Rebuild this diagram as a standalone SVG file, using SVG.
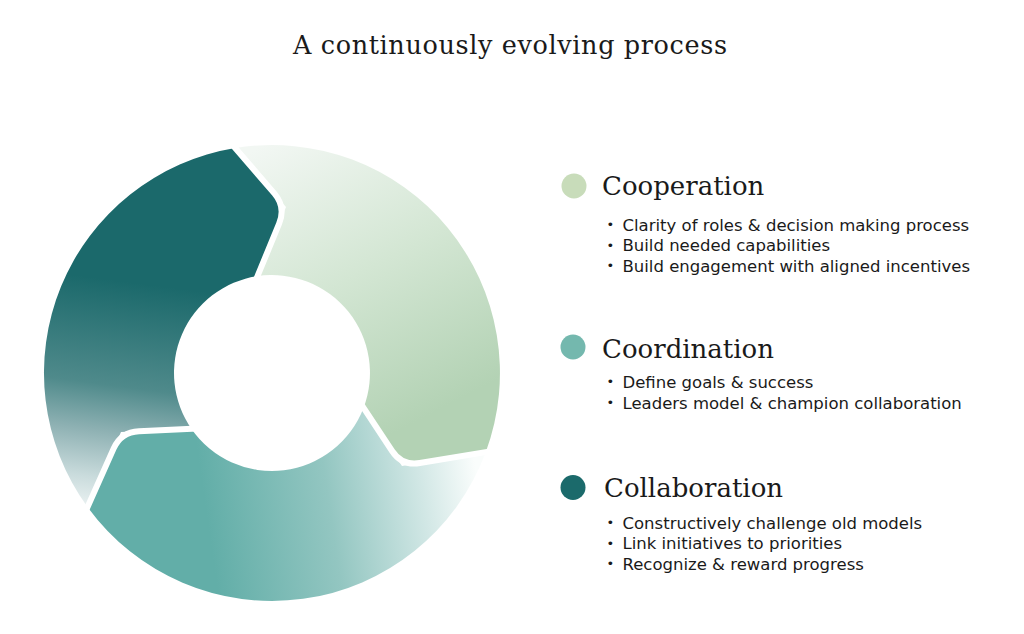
<svg xmlns="http://www.w3.org/2000/svg" width="1024" height="634" viewBox="0 0 1024 634">
  <style>
    .title { font-family: "DejaVu Serif", "Liberation Serif", serif; font-size: 25.5px; fill: #1a1a1a; }
    .head { font-family: "DejaVu Serif", "Liberation Serif", serif; font-size: 26px; fill: #1a1a1a; }
    .item { font-family: "DejaVu Sans", "Liberation Sans", sans-serif; font-size: 16.5px; fill: #1a1a1a; }
    .dot { font-family: "DejaVu Sans", "Liberation Sans", sans-serif; font-size: 13px; fill: #1a1a1a; }
    .gap { fill: none; stroke: #ffffff; stroke-width: 6; stroke-linejoin: round; stroke-linecap: butt; }
  </style>
  <defs>
    <linearGradient id="gGreen" gradientUnits="userSpaceOnUse" x1="255" y1="150" x2="400" y2="430">
      <stop offset="0" stop-color="#F2F7F3"/>
      <stop offset="0.5" stop-color="#D3E6D3"/>
      <stop offset="1" stop-color="#B3D2B4"/>
    </linearGradient>
    <linearGradient id="gTeal" gradientUnits="userSpaceOnUse" x1="200" y1="470" x2="470" y2="430">
      <stop offset="0" stop-color="#62AEA8"/>
      <stop offset="0.45" stop-color="#93C6C1"/>
      <stop offset="0.8" stop-color="#D3E8E6"/>
      <stop offset="1" stop-color="#FAFDFC"/>
    </linearGradient>
    <linearGradient id="gDark" gradientUnits="userSpaceOnUse" x1="150" y1="285" x2="120" y2="515">
      <stop offset="0" stop-color="#1B696B"/>
      <stop offset="0.45" stop-color="#4F8A8B"/>
      <stop offset="0.65" stop-color="#8EB1B3"/>
      <stop offset="0.85" stop-color="#C9DBDC"/>
      <stop offset="1" stop-color="#EEF4F4"/>
    </linearGradient>
  </defs>

  <rect width="1024" height="634" fill="#ffffff"/>

  <text class="title" x="293" y="53.5" textLength="434" lengthAdjust="spacing">A continuously evolving process</text>

  <g id="cycle">
    <g id="seg-cooperation">
      <path fill="url(#gGreen)" d="M235.2,148 A228,228 0 0 1 485.8,452.1 L419.8,463 Q402,466 392.1,451 L363.6,407.8 A98,98 0 0 0 257.5,276.1 L286,207 Z"/>
    </g>
    <g id="seg-coordination">
      <path fill="url(#gTeal)" d="M485.8,452.1 A228,228 0 0 1 87.5,507 L113.7,448.4 Q121,432 139,431.2 L191.5,428.9 A98,98 0 0 0 363.6,407.8 L402,466 Z"/>
    </g>
    <g id="seg-collaboration">
      <path fill="url(#gDark)" d="M87.5,507 A228,228 0 0 1 235.2,148 L274.3,193.4 Q286,207 279.1,223.7 L257.5,276.1 A98,98 0 0 0 191.5,428.9 L121,432 Z"/>
    </g>
  </g>

  <g id="connectors">
    <path class="gap" d="M231.3,143.5 L274.3,193.4 Q286,207 279.1,223.7 L255.2,281.7"/>
    <path class="gap" d="M491.7,451.1 L419.8,463 Q402,466 392.1,451 L360.3,402.8"/>
    <path class="gap" d="M85.1,512.5 L113.7,448.4 Q121,432 139,431.2 L197.5,428.6"/>
  </g>

  <g id="legend-cooperation">
    <circle cx="574" cy="186" r="12.5" fill="#C8DCBA"/>
    <text class="head" x="602" y="194.5">Cooperation</text>
    <text class="dot" x="606.5" y="229">•</text>
    <text class="item" x="622.5" y="230.5">Clarity of roles &amp; decision making process</text>
    <text class="dot" x="606.5" y="249.5">•</text>
    <text class="item" x="622.5" y="251">Build needed capabilities</text>
    <text class="dot" x="606.5" y="270">•</text>
    <text class="item" x="622.5" y="271.5">Build engagement with aligned incentives</text>
  </g>

  <g id="legend-coordination">
    <circle cx="573" cy="347" r="12.5" fill="#74B8AE"/>
    <text class="head" x="602" y="357.5">Coordination</text>
    <text class="dot" x="606.5" y="386">•</text>
    <text class="item" x="622.5" y="387.5">Define goals &amp; success</text>
    <text class="dot" x="606.5" y="407">•</text>
    <text class="item" x="622.5" y="408.5">Leaders model &amp; champion collaboration</text>
  </g>

  <g id="legend-collaboration">
    <circle cx="573" cy="487.5" r="12.5" fill="#1B6A6B"/>
    <text class="head" x="604" y="497">Collaboration</text>
    <text class="dot" x="606.5" y="527">•</text>
    <text class="item" x="622.5" y="528.5">Constructively challenge old models</text>
    <text class="dot" x="606.5" y="547.5">•</text>
    <text class="item" x="622.5" y="549">Link initiatives to priorities</text>
    <text class="dot" x="606.5" y="568">•</text>
    <text class="item" x="622.5" y="569.5">Recognize &amp; reward progress</text>
  </g>
</svg>
